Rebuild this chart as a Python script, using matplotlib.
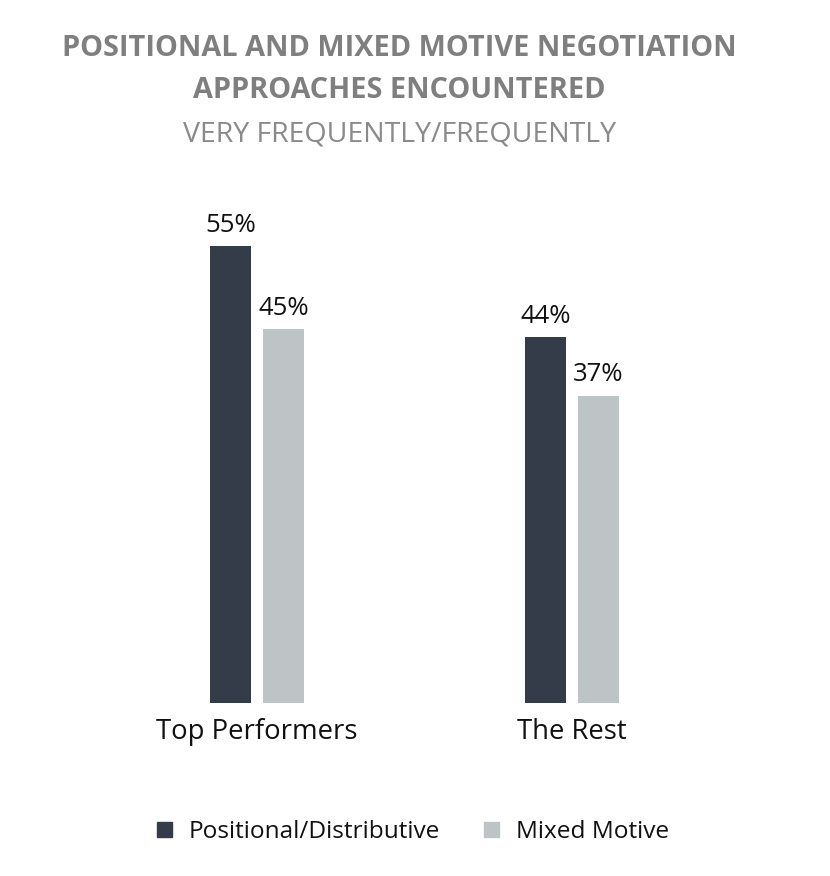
import matplotlib
matplotlib.use("Agg")
import matplotlib.pyplot as plt
from matplotlib.patches import Patch
import numpy as np

plt.rcParams['font.family'] = ['Open Sans', 'DejaVu Sans']

groups = ["Top Performers", "The Rest"]
series = ["Positional/Distributive", "Mixed Motive"]
positional = [55, 44]
mixed = [45, 37]
colors = ["#343c4a", "#bec3c6"]

W, H = 830, 876
fig = plt.figure(figsize=(W / 100, H / 100), dpi=100)

# axes placed so baseline sits ~703px from top, 55% reaches ~246px
ymax = 60
ax_h = 457 / 55 * ymax
ax_left = 36.5
ax_w = 756
ax = fig.add_axes([ax_left / W, (H - 703) / H, ax_w / W, ax_h / H])

x = np.arange(len(groups))
w = 0.13
off = 0.084
b1 = ax.bar(x - off, positional, w, color=colors[0])
b2 = ax.bar(x + off, mixed, w, color=colors[1])

for bars, vals in [(b1, positional), (b2, mixed)]:
    for b, v in zip(bars, vals):
        ax.text(b.get_x() + b.get_width() / 2, v + 1.0, f"{v}%",
                ha="center", va="bottom", fontsize=18.5, color="#111111")

ax.set_xlim(-0.7, 1.7)
ax.set_ylim(0, ymax)
ax.set_xticks(x)
ax.set_xticklabels(groups, fontsize=19.8, color="#111111")
ax.tick_params(axis="x", length=0, pad=11)
ax.set_yticks([])
for s in ax.spines.values():
    s.set_visible(False)

tx = 399 / W
fig.text(tx, 1 - 49 / H, "POSITIONAL AND MIXED MOTIVE NEGOTIATION",
         ha="center", va="center", fontsize=20.8, fontweight="bold", color="#7f7f7f")
fig.text(tx, 1 - 91 / H, "APPROACHES ENCOUNTERED",
         ha="center", va="center", fontsize=20.8, fontweight="bold", color="#7f7f7f")
fig.text(tx, 1 - 134 / H, "VERY FREQUENTLY/FREQUENTLY",
         ha="center", va="center", fontsize=20.5, color="#8a8a8a")

handles = [Patch(color=c, label=s) for c, s in zip(colors, series)]
fig.legend(handles=handles, loc="center", bbox_to_anchor=(413 / W, 1 - 832 / H),
           ncol=2, frameon=False, fontsize=17.6, handlelength=0.6, handleheight=0.6,
           handletextpad=0.7, columnspacing=1.8, labelcolor="#111111")

fig.savefig("out.png", dpi=100)
